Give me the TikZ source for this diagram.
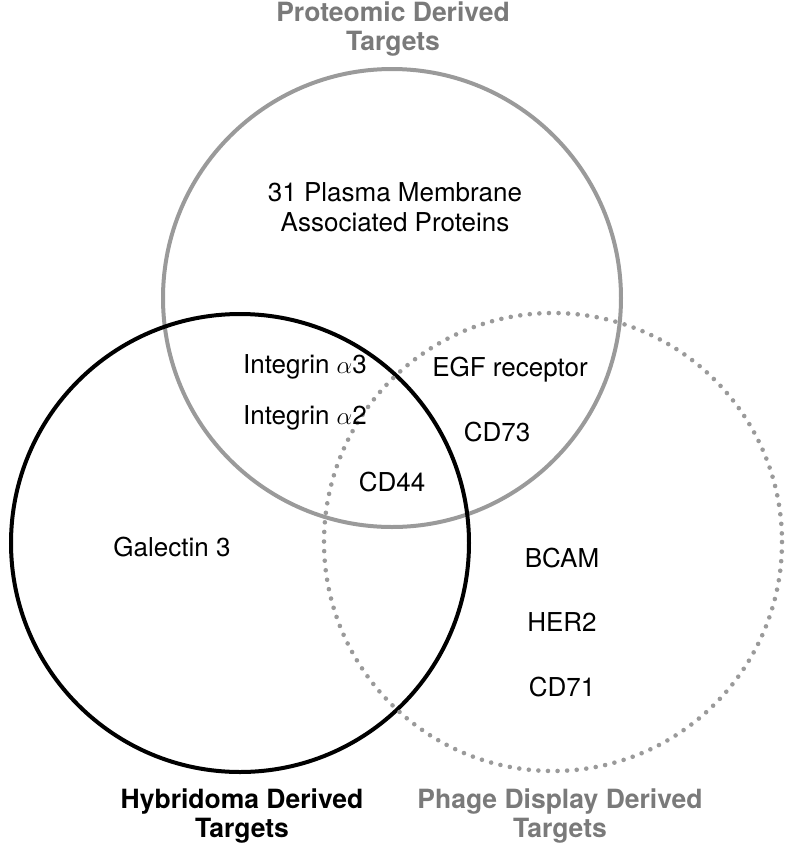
\documentclass[tikz,border=0pt]{standalone}
\usepackage{fontspec}
\setmainfont{TeX Gyre Heros}
\definecolor{cgray}{HTML}{9A9A9A}
\definecolor{tgray}{HTML}{7A7A7A}
\begin{document}
\begin{tikzpicture}[x=1pt,y=-1pt,
  lbl/.style={font=\fontsize{26}{30}\selectfont, inner sep=0pt, align=center},
  ttl/.style={font=\fontsize{26.5}{29}\selectfont\bfseries, inner sep=0pt, align=center},
  ring/.style={line width=4pt}]
\useasboundingbox (0,0) rectangle (785,847);
% circles
\draw[ring, draw=cgray] (392,298) circle[radius=229];
\draw[ring, draw=black] (240,543) circle[radius=229];
\draw[line width=4.6pt, draw=cgray, line cap=round, dash pattern=on 0pt off 9.6pt] (553,542) circle[radius=229];
% titles
\node[ttl, text=tgray] (tprot) at (393,29) {Proteomic Derived\\Targets};
\node[ttl, text=black] (thyb) at (242,816) {Hybridoma Derived\\Targets};
\node[ttl, text=tgray] (tphage) at (560,816) {Phage Display Derived\\Targets};
% labels
\node[lbl] (pm) at (395,207) {31 Plasma Membrane\\Associated Proteins};
\node[lbl] (ia3) at (305,367) {Integrin $\alpha$3};
\node[lbl] (ia2) at (305,418) {Integrin $\alpha$2};
\node[lbl] (egf) at (510,370) {EGF receptor};
\node[lbl] (cd73) at (497,432) {CD73};
\node[lbl] (cd44) at (392,482) {CD44};
\node[lbl] (gal) at (172,547) {Galectin 3};
\node[lbl] (bcam) at (562,558) {BCAM};
\node[lbl] (her2) at (562,622) {HER2};
\node[lbl] (cd71) at (562,687) {CD71};
\end{tikzpicture}
\end{document}
